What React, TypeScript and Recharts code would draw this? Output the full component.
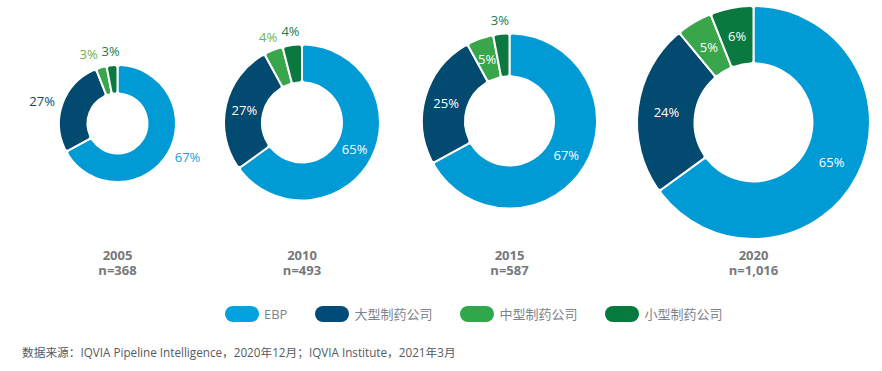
import { PieChart, Pie, Cell, Legend } from 'recharts';

const categories = ['EBP', '大型制药公司', '中型制药公司', '小型制药公司'];
const years = ['2005', '2010', '2015', '2020'];
const sampleSizes = ['368', '493', '587', '1,016'];
const ebpShare = [67, 65, 67, 65];
const largeShare = [27, 27, 25, 24];
const midShare = [3, 4, 5, 5];
const smallShare = [3, 4, 3, 6];

const shares = [ebpShare, largeShare, midShare, smallShare];

const COLORS = ['#009ad5', '#034a71', '#39a64b', '#0a793f'];
const LEGEND_COLORS = ['#00a3e0', '#004b78', '#2ea84a', '#06793c'];
const OUTSIDE_LABEL_COLORS = ['#1aa0da', '#0b4a70', '#6db33f', '#1b7a4b'];
const FONT = '"Open Sans", "Noto Sans CJK SC", sans-serif';

const DONUTS = [
  { cx: 117.5, cy: 123.5, inner: 30, outer: 58.5, inside: [false, false, false, false] },
  { cx: 302, cy: 122.5, inner: 40, outer: 78, inside: [true, true, false, false] },
  { cx: 509.5, cy: 121, inner: 44.5, outer: 87.5, inside: [true, true, true, false] },
  { cx: 753.5, cy: 122.5, inner: 59, outer: 116.5, inside: [true, true, true, true] },
];

const yearData = years.map((_, d) => categories.map((name, i) => ({ name, value: shares[i][d] })));

const RAD = Math.PI / 180;

const renderLabel = (d: number) => (props: any) => {
  const { cx, cy, midAngle, innerRadius, outerRadius, index, value } = props;
  const cfg = DONUTS[d];
  const cos = Math.cos(-midAngle * RAD);
  const sin = Math.sin(-midAngle * RAD);
  if (cfg.inside[index]) {
    const r = (innerRadius + outerRadius) / 2;
    return (
      <text x={cx + r * cos} y={cy + r * sin} fill="#fff" textAnchor="middle" dominantBaseline="central"
        fontSize={13} fontFamily={FONT}>{value}%</text>
    );
  }
  const color = OUTSIDE_LABEL_COLORS[index];
  if (Math.abs(cos) > 0.5) {
    const r = outerRadius + 8;
    return (
      <text x={cx + r * cos} y={cy + r * sin} fill={color} textAnchor={cos > 0 ? 'start' : 'end'}
        dominantBaseline="central" fontSize={13} fontFamily={FONT}>{value}%</text>
    );
  }
  const r = outerRadius + 14;
  let x = cx + r * cos;
  // push apart two neighbouring small labels near the top
  const data = yearData[d];
  if (index < data.length - 1 && !cfg.inside[index + 1]) {
    const total = data.reduce((s, e) => s + e.value, 0);
    const cum = data.slice(0, index + 1).reduce((s, e) => s + e.value, 0);
    const nextMid = 90 - ((cum + data[index + 1].value / 2) / total) * 360;
    const nx = cx + r * Math.cos(nextMid * RAD);
    x -= Math.max(0, 22 - (nx - x));
  }
  return (
    <text x={x} y={cy + r * sin} fill={color} textAnchor="middle" dominantBaseline="central"
      fontSize={13} fontFamily={FONT}>{value}%</text>
  );
};

function LegendContent() {
  return (
    <div style={{ display: 'flex', alignItems: 'center', paddingLeft: 225, fontFamily: FONT, fontSize: 13, color: '#7d838e' }}>
      {categories.map((c, i) => (
        <div key={c} style={{ display: 'flex', alignItems: 'center', marginRight: 28 }}>
          <span style={{ width: 34, height: 16, borderRadius: 8, background: LEGEND_COLORS[i], marginRight: 5, display: 'inline-block' }} />
          <span>{c}</span>
        </div>
      ))}
    </div>
  );
}

export default function App() {
  return (
    <div style={{ position: 'absolute', left: 0, top: 0, width: 882, height: 371, background: '#fff', fontFamily: FONT }}>
      <PieChart width={882} height={371} margin={{ top: 0, right: 0, bottom: 0, left: 0 }}>
        {DONUTS.map((cfg, d) => (
          <Pie
            key={years[d]}
            data={yearData[d]}
            dataKey="value"
            nameKey="name"
            cx={cfg.cx}
            cy={cfg.cy}
            innerRadius={cfg.inner}
            outerRadius={cfg.outer}
            startAngle={90}
            endAngle={-270}
            cornerRadius={3}
            stroke="#fff"
            strokeWidth={2}
            label={renderLabel(d)}
            labelLine={false}
            isAnimationActive={false}
          >
            {yearData[d].map((e, i) => (
              <Cell key={e.name} fill={COLORS[i]} />
            ))}
          </Pie>
        ))}
        <Legend content={LegendContent} wrapperStyle={{ top: 304, left: 0, width: 882, bottom: 'auto' }} />
      </PieChart>
      {DONUTS.map((cfg, d) => (
        <div key={years[d]} style={{ position: 'absolute', left: cfg.cx - 50, top: 248, width: 100, textAlign: 'center',
          fontWeight: 700, fontSize: 13, lineHeight: '15px', color: '#77787b' }}>
          <div>{years[d]}</div>
          <div>n={sampleSizes[d]}</div>
        </div>
      ))}
      <div style={{ position: 'absolute', left: 22, top: 343, fontSize: 11.7, color: '#555a61', whiteSpace: 'nowrap' }}>
        数据来源：IQVIA Pipeline Intelligence，2020年12月；IQVIA Institute，2021年3月
      </div>
    </div>
  );
}
